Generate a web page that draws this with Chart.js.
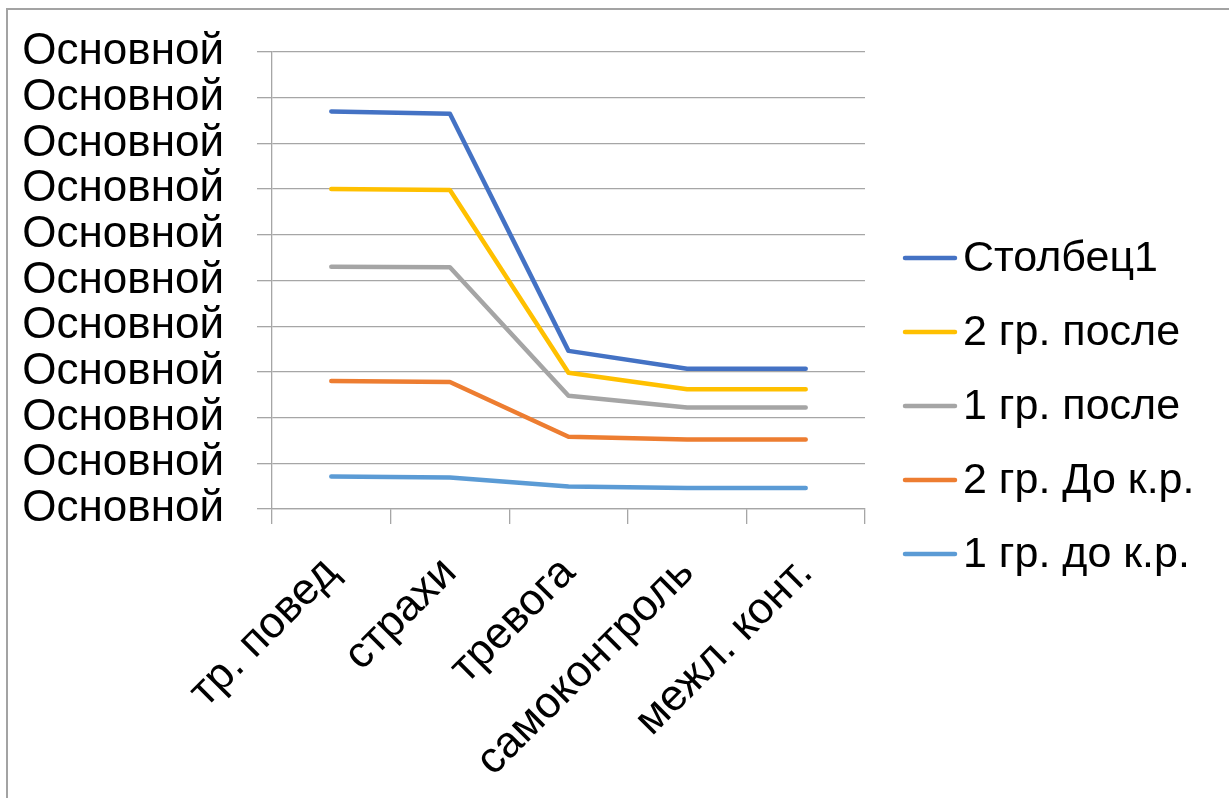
<!DOCTYPE html>
<html lang="ru">
<head>
<meta charset="utf-8">
<title>Динамика показателей</title>
<script src="https://cdn.jsdelivr.net/npm/chart.js@4.4.1/dist/chart.umd.min.js"></script>
<style>
  html, body { margin: 0; padding: 0; background: #ffffff; }
  body { width: 1229px; height: 798px; position: relative; overflow: hidden; }
  .frame {
    position: absolute; left: 6px; top: 8px; width: 1400px; height: 1000px;
    border-left: 2px solid #a3a3a3; border-top: 2px solid #a3a3a3;
  }
  #wrap { position: absolute; left: 0; top: 0; width: 1229px; height: 798px; }
</style>
</head>
<body>
<div class="frame"></div>
<div id="wrap"><canvas id="chart" width="1229" height="798"></canvas></div>
<script>
// Categories along the horizontal axis
const categories = ['тр. повед', 'страхи', 'тревога', 'самоконтроль', 'межл. конт.'];

// Series values
const stolbec1   = [8.70, 8.65, 3.46, 3.07, 3.07];
const gr2After   = [7.00, 6.98, 2.98, 2.62, 2.62];
const gr1After   = [5.30, 5.29, 2.48, 2.22, 2.22];
const gr2Before  = [2.80, 2.78, 1.58, 1.52, 1.52];
const gr1Before  = [0.71, 0.69, 0.49, 0.46, 0.46];

// Series names (legend order)
const seriesNames = ['Столбец1', '2 гр. после', '1 гр. после', '2 гр. До к.р.', '1 гр. до к.р.'];
const seriesColors = ['#4472C4', '#FFC000', '#A5A5A5', '#ED7D31', '#5B9BD5'];

// Value axis: eleven ticks, every label shown with the same number-format text
const yTickCount = 11;
const yTickLabel = 'Основной';

const FONT = "'Liberation Sans', Arial, sans-serif";
const GRID = '#a6a6a6';

const seriesValues = [stolbec1, gr2After, gr1After, gr2Before, gr1Before];

const datasets = seriesNames.map((name, i) => ({
  label: name,
  data: seriesValues[i],
  borderColor: seriesColors[i],
  backgroundColor: seriesColors[i],
  borderWidth: 4.5,
  pointRadius: 0,
  pointHoverRadius: 0,
  tension: 0,
  borderJoinStyle: 'round',
  borderCapStyle: 'round',
  order: seriesNames.length - i
}));

// Legend on the right: short line sample followed by the series name
const sideLegend = {
  id: 'sideLegend',
  afterDraw(chart) {
    const ctx = chart.ctx;
    const ds = chart.data.datasets;
    const step = 74;
    const centerY = 406;
    const x0 = 905, x1 = 955, tx = 963;
    const startY = centerY - step * (ds.length - 1) / 2;
    ctx.save();
    ctx.font = '43px ' + FONT;
    ctx.textBaseline = 'middle';
    ctx.textAlign = 'left';
    ds.forEach((d, i) => {
      const y = startY + i * step;
      ctx.beginPath();
      ctx.strokeStyle = d.borderColor;
      ctx.lineWidth = 4.5;
      ctx.lineCap = 'round';
      ctx.moveTo(x0, y);
      ctx.lineTo(x1, y);
      ctx.stroke();
      ctx.fillStyle = '#000000';
      ctx.fillText(d.label, tx, y + 1);
    });
    ctx.restore();
  }
};

new Chart(document.getElementById('chart'), {
  type: 'line',
  data: { labels: categories, datasets },
  options: {
    responsive: false,
    animation: false,
    events: [],
    layout: { padding: { top: 52, right: 364, left: 0, bottom: 0 } },
    plugins: {
      legend: { display: false },
      tooltip: { enabled: false }
    },
    scales: {
      x: {
        type: 'category',
        offset: true,
        grid: {
          offset: true,
          drawOnChartArea: false,
          drawTicks: true,
          tickLength: 15,
          color: GRID,
          lineWidth: 1.3
        },
        border: { display: true, color: GRID, width: 1.3 },
        ticks: {
          autoSkip: false,
          maxRotation: 45,
          minRotation: 45,
          padding: 23,
          color: '#000000',
          font: { family: FONT, size: 44 }
        },
        afterFit(scale) { scale.height = 798 - 509; }
      },
      y: {
        min: 0,
        max: yTickCount - 1,
        grid: {
          drawTicks: true,
          tickLength: 15,
          color: GRID,
          lineWidth: 1.3
        },
        border: { display: true, color: GRID, width: 1.3 },
        ticks: {
          stepSize: 1,
          autoSkip: false,
          maxTicksLimit: yTickCount,
          padding: 33,
          color: '#000000',
          font: { family: FONT, size: 44, lineHeight: 0.8 },
          callback: () => yTickLabel
        },
        afterFit(scale) { scale.width = 272; }
      }
    }
  },
  plugins: [sideLegend]
});
</script>
</body>
</html>
